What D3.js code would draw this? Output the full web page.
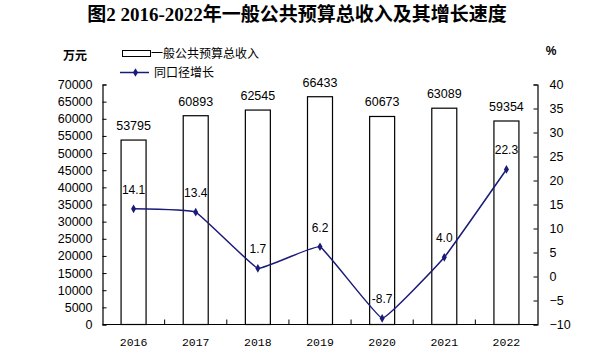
<!DOCTYPE html>
<html><head><meta charset="utf-8">
<script src="https://cdn.jsdelivr.net/npm/d3@7"></script>
<style>body{margin:0;background:#fff}svg{display:block}</style>
</head><body>
<svg id="c" width="591" height="356"></svg>
<script>
const years = ["2016","2017","2018","2019","2020","2021","2022"];
const revenue = [53795, 60893, 62545, 66433, 60673, 63089, 59354];
const growth = [14.1, 13.4, 1.7, 6.2, -8.7, 4.0, 22.3];
const growthLabels = ["14.1","13.4","1.7","6.2","-8.7","4.0","22.3"];
const leftTicks = [0,5000,10000,15000,20000,25000,30000,35000,40000,45000,50000,55000,60000,65000,70000];
const rightTicks = [-10,-5,0,5,10,15,20,25,30,35,40];

const svg = d3.select("#c");
const L = 102.5, R = 537.5, T = 84.5, B = 324.5;
const x = d3.scaleBand().domain(years).range([L, R]);
const yL = d3.scaleLinear().domain([0, 70000]).range([B, T]);
const yR = d3.scaleLinear().domain([-10, 40]).range([B, T]);
const navy = "#1a1a78";
const numFont = "'Liberation Sans', Arial, sans-serif";

// title
svg.append("text").attr("x", 297).attr("y", 21).attr("text-anchor", "middle")
  .attr("font-family", "'Liberation Serif','Noto Sans CJK SC',serif").attr("font-weight", "bold")
  .attr("font-size", 19).text("图2 2016-2022年一般公共预算总收入及其增长速度");

// unit labels
svg.append("text").attr("x", 75).attr("y", 60).attr("text-anchor", "middle")
  .attr("font-family", "'Noto Sans CJK SC',sans-serif").attr("font-weight", "bold").attr("font-size", 12).text("万元");
svg.append("text").attr("x", 551).attr("y", 55).attr("text-anchor", "middle")
  .attr("font-family", numFont).attr("font-weight", "bold").attr("font-size", 12).text("%");

// bars
svg.append("g").selectAll("rect").data(revenue).join("rect")
  .attr("x", (d, i) => x(years[i]) + x.bandwidth() / 2 - 12.5)
  .attr("y", d => yL(d))
  .attr("width", 25)
  .attr("height", d => B - yL(d))
  .attr("fill", "#fff").attr("stroke", "#000").attr("stroke-width", 1.2);

svg.append("g").selectAll("text").data(revenue).join("text")
  .attr("x", (d, i) => x(years[i]) + x.bandwidth() / 2)
  .attr("y", d => yL(d) - 10)
  .attr("text-anchor", "middle").attr("font-family", numFont).attr("font-size", 12.5)
  .text(d => d);

// left axis
const gL = svg.append("g").attr("transform", `translate(${L},0)`)
  .call(d3.axisLeft(yL).tickValues(leftTicks).tickSize(-4).tickPadding(10).tickFormat(d => d));
gL.select(".domain").attr("stroke", "#000").attr("stroke-width", 1.2);
gL.selectAll(".tick line").attr("stroke", "#000");
gL.selectAll("text").attr("font-family", numFont).attr("font-size", 12.5).attr("fill", "#000");

// right axis
const gR = svg.append("g").attr("transform", `translate(${R},0)`)
  .call(d3.axisRight(yR).tickValues(rightTicks).tickSize(-4).tickPadding(12));
gR.select(".domain").attr("stroke", "#000").attr("stroke-width", 1.2);
gR.selectAll(".tick line").attr("stroke", "#000");
gR.selectAll("text").attr("font-family", numFont).attr("font-size", 12.5).attr("fill", "#000");

// bottom axis
const gB = svg.append("g").attr("transform", `translate(0,${B})`);
gB.append("line").attr("x1", L).attr("x2", R).attr("stroke", "#000").attr("stroke-width", 1.2);
gB.selectAll("line.t").data(years.slice(1)).join("line").attr("class", "t")
  .attr("x1", d => x(d)).attr("x2", d => x(d)).attr("y1", 0).attr("y2", -5).attr("stroke", "#000");
gB.selectAll("text").data(years).join("text")
  .attr("x", d => x(d) + x.bandwidth() / 2).attr("y", 21)
  .attr("text-anchor", "middle").attr("font-family", "'Liberation Mono','DejaVu Sans Mono',monospace")
  .attr("font-size", 11.5).text(d => d);

// line
const pts = growth.map((g, i) => [x(years[i]) + x.bandwidth() / 2, yR(g)]);
svg.append("path").attr("d", d3.line().curve(d3.curveCardinal.tension(0.75))(pts))
  .attr("fill", "none").attr("stroke", navy).attr("stroke-width", 1.5);
svg.append("g").selectAll("path").data(pts).join("path")
  .attr("transform", d => `translate(${d[0]},${d[1]})`)
  .attr("d", d3.symbol(d3.symbolDiamond, 22)).attr("fill", navy);
svg.append("g").selectAll("text").data(pts).join("text")
  .attr("x", d => d[0]).attr("y", d => d[1] - 15)
  .attr("text-anchor", "middle").attr("font-family", numFont).attr("font-size", 12)
  .text((d, i) => growthLabels[i]);

// legend
const lg = svg.append("g");
lg.append("rect").attr("x", 122.5).attr("y", 50.5).attr("width", 28).attr("height", 6)
  .attr("fill", "#fff").attr("stroke", "#000");
lg.append("text").attr("x", 151).attr("y", 58).attr("font-family", "'Noto Sans CJK SC',sans-serif")
  .attr("font-size", 12).text("一般公共预算总收入");
lg.append("line").attr("x1", 120).attr("x2", 149).attr("y1", 72.5).attr("y2", 72.5)
  .attr("stroke", navy).attr("stroke-width", 1.5);
lg.append("path").attr("transform", "translate(135.5,72.5)").attr("d", d3.symbol(d3.symbolDiamond, 22)).attr("fill", navy);
lg.append("text").attr("x", 154).attr("y", 77).attr("font-family", "'Noto Sans CJK SC',sans-serif")
  .attr("font-size", 12).text("同口径增长");
</script>
</body></html>
